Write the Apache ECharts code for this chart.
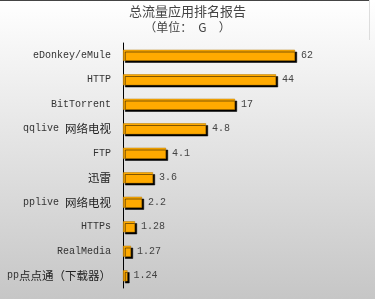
<!DOCTYPE html>
<html><head><meta charset="utf-8">
<script src="https://cdn.jsdelivr.net/npm/echarts@6/dist/echarts.min.js"></script>
<style>html,body{margin:0;padding:0;}#c{width:375px;height:299px;}</style>
</head><body><div id="c"></div>
<script>
// Categories (top to bottom)
const categories = ['eDonkey/eMule','HTTP','BitTorrent','qqlive 网络电视','FTP','迅雷','pplive 网络电视','HTTPs','RealMedia','pp点点通（下载器）'];
// Traffic values as printed on the chart (unit: G)
const traffic = ['62','44','17','4.8','4.1','3.6','2.2','1.28','1.27','1.24'];
// Bar lengths as drawn in the reference (relative scale 0-100)
const barLength = [68.8, 61.2, 44.8, 33.2, 17.2, 12.0, 7.6, 4.8, 3.2, 1.8];
const titleText = '总流量应用排名报告';
const subTitleText = '（单位：　G　）';

const mono = '"Liberation Mono","DejaVu Sans Mono","Noto Sans CJK SC",monospace';
const chart = echarts.init(document.getElementById('c'));
chart.setOption({
  animation: false,
  backgroundColor: {type:'linear', x:0, y:0, x2:0, y2:1, colorStops:[{offset:0,color:'#ffffff'},{offset:1,color:'#c6c6c6'}]},
  title: {
    text: titleText, subtext: subTitleText, left: 'center', top: 0, itemGap: 3,
    textStyle: {fontFamily:'"Noto Sans CJK SC",sans-serif', fontSize: 13, fontWeight: 'normal', color: '#444'},
    subtextStyle: {fontFamily:'"Noto Sans CJK SC",sans-serif', fontSize: 12, color: '#444'}
  },
  graphic: [
    {type:'line', shape:{x1:0,y1:0.5,x2:369,y2:0.5}, style:{stroke:'#444', lineWidth:1}},
    {type:'line', shape:{x1:369.5,y1:0,x2:369.5,y2:40}, style:{stroke:'#ddd', lineWidth:1}}
  ],
  grid: {left: 123, top: 43, height: 245, width: 250},
  xAxis: {type:'value', min:0, max:100, show:false},
  yAxis: {
    type:'category', data: categories, inverse: true,
    axisLine: {lineStyle:{color:'#000', width:1}},
    axisTick: {length: 4, lineStyle:{color:'#000'}},
    axisLabel: {
      margin: 12, fontFamily: mono, fontSize: 10, color: '#333',
      formatter: v => v.replace(/[\u3000-\u9fff\uff00-\uffef]+/g, m => '{c|' + m + '}'),
      rich: {c: {fontFamily:'"Noto Sans CJK SC",sans-serif', fontSize: 11.5, color:'#222'}}
    }
  },
  series: [{
    type:'bar', data: barLength, barWidth: 11,
    itemStyle: {color:'#FFAA00', borderColor:'#b77a00', borderWidth:0.5, shadowColor:'#000', shadowOffsetX:2, shadowOffsetY:2, shadowBlur:0},
    label: {show:true, position:'right', distance: 6, fontFamily: mono, fontSize: 10, color:'#444',
      formatter: p => traffic[p.dataIndex]}
  }]
});
</script></body></html>
